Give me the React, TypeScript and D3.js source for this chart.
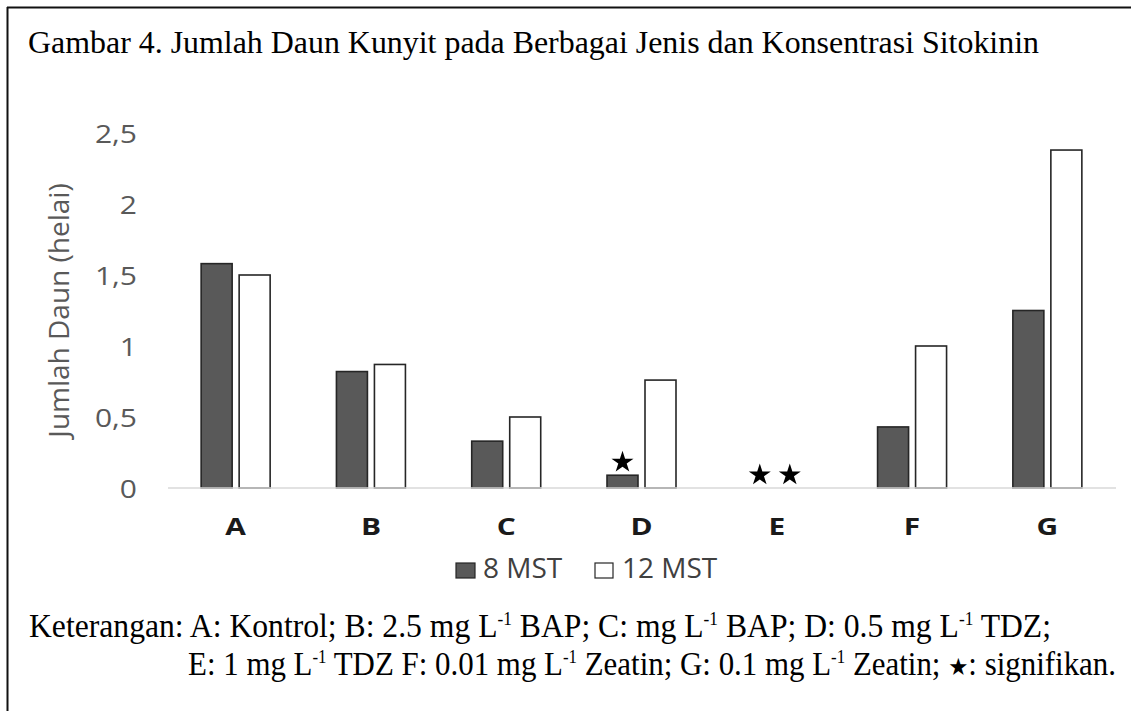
import * as d3 from "d3";

const categories = ["A", "B", "C", "D", "E", "F", "G"];
const seriesNames = ["8 MST", "12 MST"];
const mst8 = [1.58, 0.82, 0.33, 0.09, 0, 0.43, 1.25];
const mst12 = [1.5, 0.87, 0.5, 0.76, 0, 1.0, 2.38];
const yTicks = [0, 0.5, 1, 1.5, 2, 2.5];
const yTickLabels = ["0", "0,5", "1", "1,5", "2", "2,5"];
// significance stars: category + series index
const stars = [
  { cat: "D", s: 0 },
  { cat: "E", s: 0 },
  { cat: "E", s: 1 },
];

const W = 1131;
const H = 711;
const sans = "'Open Sans', sans-serif";
const serif = "'Liberation Serif', 'Times New Roman', serif";

export default function App() {
  const x = d3.scaleBand<string>().domain(categories).range([168, 1115]).paddingInner(0.49).paddingOuter(0.245);
  const xs = d3.scaleBand<string>().domain(seriesNames).range([0, x.bandwidth()]).paddingInner(7 / 38);
  const y = d3.scaleLinear().domain([0, 2.5]).range([488, 133]);
  const values = [mst8, mst12];
  const fills = ["#595959", "#ffffff"];
  const starPath = d3.symbol().type(d3.symbolStar).size(150)() as string;

  return (
    <svg width={W} height={H} style={{ position: "fixed", left: 0, top: 0, background: "#fff" }}>
      <line x1={7} x2={W} y1={7.5} y2={7.5} stroke="#111" strokeWidth={2} />
      <line x1={7.5} x2={7.5} y1={7} y2={H} stroke="#111" strokeWidth={2} />

      <text x={28} y={53} fontFamily={serif} fontSize={31} fill="#000" textLength={1011} lengthAdjust="spacingAndGlyphs">
        Gambar 4. Jumlah Daun Kunyit pada Berbagai Jenis dan Konsentrasi Sitokinin
      </text>

      {/* y tick labels */}
      {yTicks.map((t, i) => (
        <text key={t} transform={`translate(137,${y(t)}) scale(1.2,1)`} textAnchor="end" dominantBaseline="central"
          fontFamily={sans} fontSize={25} fill="#595959">
          {yTickLabels[i]}
        </text>
      ))}
      <text transform={`translate(58,${(y(0) + y(2.5)) / 2}) rotate(-90)`} textAnchor="middle" dominantBaseline="central"
        fontFamily={sans} fontSize={28} fill="#595959">
        Jumlah Daun (helai)
      </text>

      {/* bars */}
      {categories.map((c, ci) => (
        <g key={c} transform={`translate(${x(c)},0)`}>
          {seriesNames.map((s, si) =>
            values[si][ci] > 0 ? (
              <rect key={s} x={xs(s)} y={y(values[si][ci])} width={xs.bandwidth()} height={y(0) - y(values[si][ci])}
                fill={fills[si]} stroke="#262626" strokeWidth={1.6} />
            ) : null
          )}
        </g>
      ))}

      <line x1={168} x2={1116} y1={y(0)} y2={y(0)} stroke="#d9d9d9" strokeWidth={1.5} />

      {stars.map((st, i) => {
        const si = st.s;
        const ci = categories.indexOf(st.cat);
        const cx = (x(st.cat) as number) + (xs(seriesNames[si]) as number) + xs.bandwidth() / 2 + (st.cat === "E" ? (si === 0 ? 2 : -6) : 0);
        const cy = y(values[si][ci]) - 13;
        return <path key={i} d={starPath} transform={`translate(${cx},${cy})`} fill="#000" />;
      })}

      {/* category labels */}
      {categories.map((c) => (
        <text key={c} transform={`translate(${(x(c) as number) + x.bandwidth() / 2},535) scale(1.3,1)`} textAnchor="middle"
          fontFamily={sans} fontWeight="bold" fontSize={23} fill="#1a1a1a">
          {c}
        </text>
      ))}

      {/* legend */}
      <rect x={456} y={563} width={19} height={15} fill="#595959" stroke="#262626" strokeWidth={1.2} />
      <text x={483} y={578} fontFamily={sans} fontSize={28} fill="#404040">{seriesNames[0]}</text>
      <rect x={595} y={563} width={18} height={15} fill="#fff" stroke="#262626" strokeWidth={1.2} />
      <text x={622} y={578} fontFamily={sans} fontSize={28} fill="#404040">{seriesNames[1]}</text>

      {/* footnote */}
      <text x={29} y={637} fontFamily={serif} fontSize={33} fill="#000" textLength={1022} lengthAdjust="spacingAndGlyphs">
        Keterangan: A: Kontrol; B: 2.5 mg L<tspan dy={-12} fontSize={18}>-1</tspan><tspan dy={12}> BAP; C: mg L</tspan>
        <tspan dy={-12} fontSize={18}>-1</tspan><tspan dy={12}> BAP; D: 0.5 mg L</tspan><tspan dy={-12} fontSize={18}>-1</tspan>
        <tspan dy={12}> TDZ;</tspan>
      </text>
      <text x={188} y={675} fontFamily={serif} fontSize={33} fill="#000" textLength={928} lengthAdjust="spacingAndGlyphs">
        E: 1 mg L<tspan dy={-12} fontSize={18}>-1</tspan><tspan dy={12}> TDZ F: 0.01 mg L</tspan>
        <tspan dy={-12} fontSize={18}>-1</tspan><tspan dy={12}> Zeatin; G: 0.1 mg L</tspan><tspan dy={-12} fontSize={18}>-1</tspan>
        <tspan dy={12}> Zeatin; </tspan><tspan fontFamily="'DejaVu Sans'" fontSize={24}>★</tspan><tspan>: signifikan.</tspan>
      </text>
    </svg>
  );
}
